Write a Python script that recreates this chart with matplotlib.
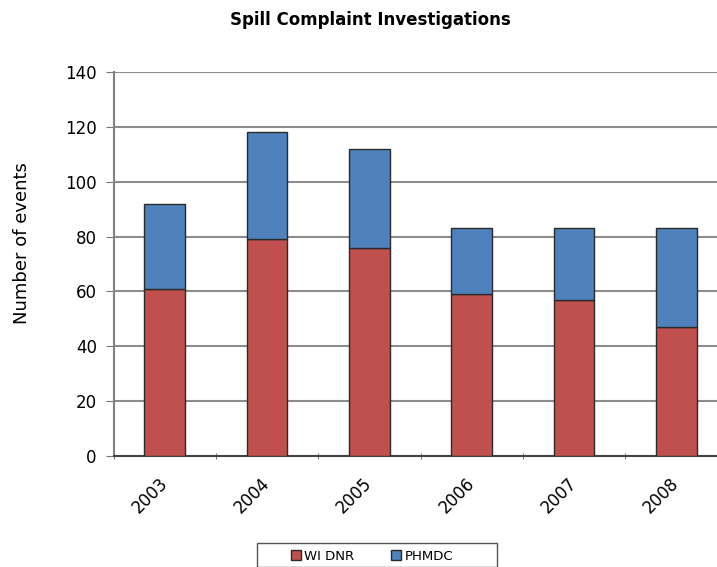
import numpy as np
import matplotlib
matplotlib.use('Agg')
import matplotlib.pyplot as plt
from matplotlib.patches import Rectangle

years = ['2003', '2004', '2005', '2006', '2007', '2008']
wi_dnr = [61, 79, 76, 59, 57, 47]
phmdc = [31, 39, 36, 24, 26, 36]

plt.rcParams['font.family'] = 'DejaVu Sans'

fig = plt.figure(figsize=(7.17, 5.67), dpi=100)
ax = fig.add_axes([113.5 / 717, 111 / 567, 614 / 717, 384 / 567])

x = np.arange(len(years))
ax.bar(x, wi_dnr, width=0.4, color='#C0504D', edgecolor='#2a2a2a', linewidth=1, label='WI DNR', zorder=3)
ax.bar(x, phmdc, width=0.4, bottom=wi_dnr, color='#4F81BD', edgecolor='#2a2a2a', linewidth=1, label='PHMDC', zorder=3)

ax.set_xlim(-0.5, 5.5)
ax.set_ylim(0, 140)
ax.set_yticks(range(0, 141, 20))
ax.yaxis.grid(True, color='#8c8c8c', linewidth=1.5, zorder=0)
ax.set_axisbelow(True)

ax.set_xticks(x)
ax.set_xticklabels(years, rotation=45, ha='right', va='center', rotation_mode='anchor', fontsize=12)
ax.set_xticks(np.arange(-0.5, 6, 1), minor=True)
ax.tick_params(axis='x', which='major', length=0, pad=18)
ax.tick_params(axis='x', which='minor', length=5, direction='inout', color='#555555')
ax.tick_params(axis='y', labelsize=12, length=6, color='#777777', pad=6)

for s in ['top', 'right']:
    ax.spines[s].set_visible(False)
ax.spines['left'].set_color('#808080')
ax.spines['left'].set_linewidth(1.5)
ax.spines['bottom'].set_color('#444444')
ax.spines['bottom'].set_linewidth(1.5)

fig.text(22 / 717, 1 - 243 / 567, 'Number of events', rotation=90, ha='center', va='center', fontsize=13)
fig.text(370 / 717, 1 - 20 / 567, 'Spill Complaint Investigations', ha='center', va='center',
         fontsize=12, fontweight='bold')

leg = fig.legend(loc='center', bbox_to_anchor=(372 / 717, 1 - 556 / 567), ncol=2,
                 fontsize=9.5, frameon=False,
                 handlelength=0.75, handleheight=0.75, columnspacing=2.8, handletextpad=0.25)
fig.patches.append(Rectangle((257 / 717, 0), 240 / 717, 24 / 567, transform=fig.transFigure,
                             fill=False, edgecolor='#555555', linewidth=1))

fig.savefig('out.png', dpi=100)
